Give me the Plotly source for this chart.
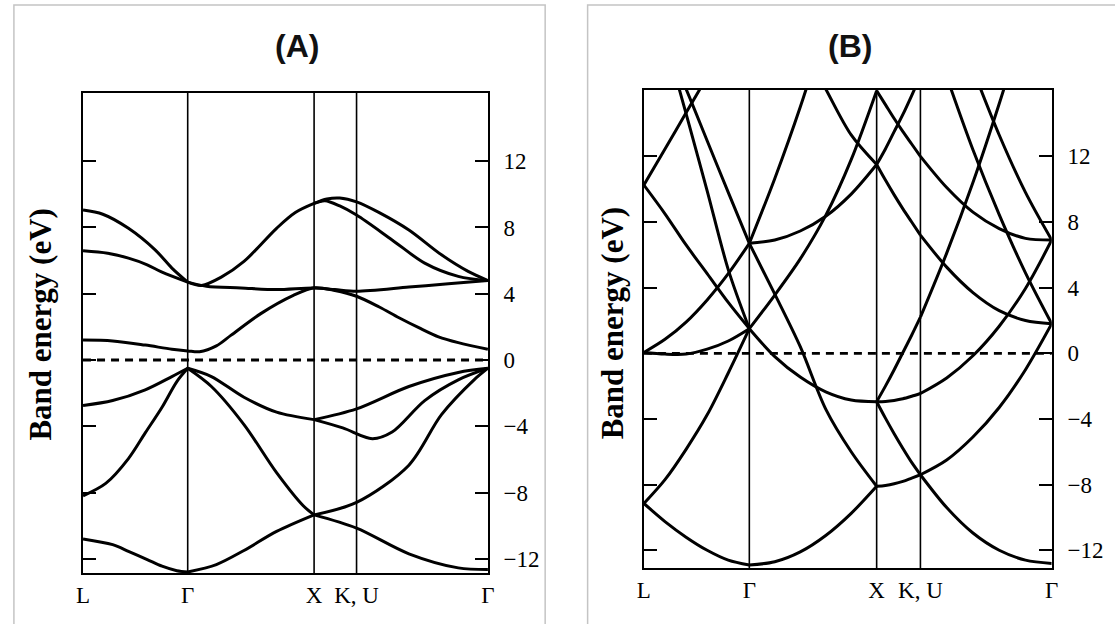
import plotly.graph_objects as go

# ---------------- shared axis data ----------------
SYM_LABELS = ["L", "Γ", "X", "K, U", "Γ"]
A_SYM_K = [0, 1.06, 2.34, 2.77, 4.10]
B_SYM_K = [0, 1.06, 2.34, 2.78, 4.10]
E_TICKS = [-12, -8, -4, 0, 4, 8, 12]
E_TICK_TEXT = ["−12", "−8", "−4", "0", "4", "8", "12"]
A_E_RANGE = [-12.86, 16.12]
B_E_RANGE = [-13.08, 16.04]
K_RANGE = [0, 4.10]
TITLES = ["(A)", "(B)"]
Y_LABEL = "Band energy (eV)"

# ---------------- panel A bands (k, E in eV) ----------------
A_U1_K = [0, 0.2, 0.46, 0.73, 0.9, 1.06]
A_U1_E = [9.05, 8.8, 7.95, 6.65, 5.55, 4.7]
A_U2_K = [0, 0.25, 0.46, 0.65, 0.8, 1.06]
A_U2_E = [6.6, 6.45, 6.15, 5.75, 5.3, 4.7]
A_C1_K = [0, 0.3, 0.63, 0.9, 1.06, 1.18, 1.35, 1.5, 1.8, 2.13, 2.34, 2.55, 2.77, 3.0, 3.2, 3.4, 3.6, 3.8, 4.10]
A_C1_E = [1.2, 1.15, 0.9, 0.65, 0.55, 0.5, 0.85, 1.5, 2.8, 3.9, 4.36, 4.2, 3.85, 3.2, 2.55, 1.95, 1.4, 1.05, 0.65]
A_UP_K = [1.06, 1.2, 1.4, 1.63, 1.96, 2.15, 2.34, 2.47, 2.6, 2.77, 3.0, 3.3, 3.63, 3.9, 4.10]
A_UP_E = [4.7, 4.5, 5.0, 5.95, 7.95, 8.9, 9.45, 9.72, 9.78, 9.55, 8.9, 7.85, 6.35, 5.35, 4.8]
A_U2R_K = [2.34, 2.45, 2.6, 2.77, 3.13, 3.46, 3.8, 4.10]
A_U2R_E = [9.45, 9.62, 9.3, 8.75, 7.25, 5.85, 5.05, 4.8]
A_FL_K = [1.06, 1.25, 1.6, 1.96, 2.34, 2.55, 2.77, 3.3, 3.7, 4.10]
A_FL_E = [4.7, 4.45, 4.35, 4.25, 4.35, 4.25, 4.15, 4.4, 4.6, 4.8]
A_V1_K = [0, 0.3, 0.63, 0.9, 1.06]
A_V1_E = [-2.75, -2.45, -1.8, -1.0, -0.5]
A_V2_K = [0, 0.23, 0.46, 0.63, 0.8, 0.95, 1.06]
A_V2_E = [-8.2, -7.45, -5.95, -4.4, -2.85, -1.3, -0.5]
A_V3_K = [0, 0.3, 0.46, 0.65, 0.8, 0.95, 1.06]
A_V3_E = [-10.8, -11.15, -11.55, -12.05, -12.45, -12.72, -12.8]
A_V1B_K = [1.06, 1.3, 1.63, 1.96, 2.34]
A_V1B_E = [-0.5, -1.0, -2.25, -3.15, -3.6]
A_V2B_K = [1.06, 1.3, 1.63, 1.96, 2.23, 2.34]
A_V2B_E = [-0.5, -1.6, -3.9, -6.8, -8.8, -9.35]
A_V3B_K = [1.06, 1.35, 1.63, 1.96, 2.34]
A_V3B_E = [-12.8, -12.35, -11.5, -10.35, -9.35]
A_V4_K = [2.34, 2.77, 3.3, 3.8, 4.10]
A_V4_E = [-3.6, -2.95, -1.6, -0.75, -0.5]
A_V5_K = [2.34, 2.63, 2.93, 3.13, 3.46, 3.8, 4.10]
A_V5_E = [-3.6, -4.1, -4.75, -4.35, -2.45, -1.2, -0.5]
A_V6_K = [2.34, 2.77, 3.3, 3.63, 3.96, 4.10]
A_V6_E = [-9.35, -8.6, -6.35, -3.3, -1.2, -0.5]
A_V7_K = [2.34, 2.77, 3.3, 3.8, 4.10]
A_V7_E = [-9.35, -10.15, -11.7, -12.55, -12.65]

# ---------------- panel B bands (k, E in eV) ----------------
B_K_LG = [0, 0.212, 0.424, 0.636, 0.848, 1.06]
B_K_GX = [1.06, 1.316, 1.572, 1.828, 2.084, 2.34]
B_K_XK = [2.34, 2.428, 2.516, 2.604, 2.692, 2.78]
B_K_KG = [2.78, 3.044, 3.308, 3.572, 3.836, 4.10]

B_LG1_E = [-9.15, -10.25, -11.2, -12.0, -12.6, -12.9]
B_LG2_E = [-9.15, -7.7, -5.85, -3.75, -1.2, 1.5]
B_LG3_E = [0.05, -0.05, -0.05, 0.25, 0.75, 1.5]
B_LG4_E = [0.05, 0.85, 1.9, 3.25, 4.85, 6.7]
B_LG5_E = [10.25, 8.5, 6.6, 4.85, 3.1, 1.5]
B_LG6_K = [0, 0.212, 0.424, 0.636]
B_LG6_E = [10.25, 12.45, 14.65, 16.85]
B_LG7_K = [0.30, 0.424, 0.636, 0.848, 1.06]
B_LG7_E = [17.3, 14.6, 9.9, 5.1, 1.5]
B_LG8_K = [0.35, 0.424, 0.636, 0.848, 1.06]
B_LG8_E = [17.1, 16.1, 12.95, 9.8, 6.7]

B_GX1_E = [-12.9, -12.7, -12.1, -11.1, -9.75, -8.1]
B_GX2_E = [6.7, 3.6, 0.4, -3.4, -6.0, -8.1]
B_GX3_E = [1.5, -0.2, -1.45, -2.35, -2.85, -2.95]
B_GX4_E = [1.5, 3.55, 5.75, 8.4, 11.8, 16.0]
B_GX5_E = [6.7, 6.9, 7.45, 8.35, 9.7, 11.5]
B_GX6_K = [1.06, 1.316, 1.572, 1.828]
B_GX6_E = [6.7, 10.65, 15.0, 19.9]
B_GX7_K = [1.572, 1.828, 2.084, 2.34]
B_GX7_E = [19.0, 16.1, 13.3, 11.5]

B_XK1_E = [-8.1, -8.05, -7.95, -7.8, -7.6, -7.4]
B_XK2_E = [-2.95, -3.95, -4.9, -5.8, -6.65, -7.4]
B_XK3_E = [-2.95, -2.0, -1.0, 0.05, 1.1, 2.2]
B_XK4_E = [-2.95, -2.93, -2.87, -2.77, -2.62, -2.45]
B_XK5_E = [16.0, 15.15, 14.3, 13.5, 12.75, 12.0]
B_XK6_E = [11.5, 10.55, 9.65, 8.8, 8.0, 7.2]
B_XK7_E = [11.5, 12.45, 13.5, 14.55, 15.7, 16.9]

B_KG1_E = [-7.4, -9.4, -10.95, -12.0, -12.6, -12.8]
B_KG2_E = [-7.4, -6.5, -5.1, -3.3, -1.0, 1.8]
B_KG3_E = [-2.45, -1.5, -0.15, 1.65, 3.95, 6.9]
B_KG4_K = [2.78, 3.044, 3.308, 3.572, 3.836]
B_KG4_E = [2.2, 6.1, 10.4, 15.2, 20.4]
B_KG5_E = [7.2, 5.25, 3.7, 2.6, 2.0, 1.8]
B_KG6_E = [12.0, 10.1, 8.6, 7.6, 7.0, 6.9]
B_KG7_K = [3.044, 3.308, 3.572, 3.836, 4.10]
B_KG7_E = [16.85, 12.4, 8.45, 4.9, 1.8]
B_KG8_K = [3.308, 3.572, 3.836, 4.10]
B_KG8_E = [17.3, 13.3, 9.8, 6.9]

A_BANDS = [
    (A_U1_K, A_U1_E), (A_U2_K, A_U2_E), (A_C1_K, A_C1_E), (A_UP_K, A_UP_E),
    (A_U2R_K, A_U2R_E), (A_FL_K, A_FL_E), (A_V1_K, A_V1_E), (A_V2_K, A_V2_E),
    (A_V3_K, A_V3_E), (A_V1B_K, A_V1B_E), (A_V2B_K, A_V2B_E), (A_V3B_K, A_V3B_E),
    (A_V4_K, A_V4_E), (A_V5_K, A_V5_E), (A_V6_K, A_V6_E), (A_V7_K, A_V7_E),
]
B_BANDS = [
    (B_K_LG, B_LG1_E), (B_K_LG, B_LG2_E), (B_K_LG, B_LG3_E), (B_K_LG, B_LG4_E),
    (B_K_LG, B_LG5_E), (B_LG6_K, B_LG6_E), (B_LG7_K, B_LG7_E), (B_LG8_K, B_LG8_E),
    (B_K_GX, B_GX1_E), (B_K_GX, B_GX2_E), (B_K_GX, B_GX3_E), (B_K_GX, B_GX4_E),
    (B_K_GX, B_GX5_E), (B_GX6_K, B_GX6_E), (B_GX7_K, B_GX7_E),
    (B_K_XK, B_XK1_E), (B_K_XK, B_XK2_E), (B_K_XK, B_XK3_E), (B_K_XK, B_XK4_E),
    (B_K_XK, B_XK5_E), (B_K_XK, B_XK6_E), (B_K_XK, B_XK7_E),
    (B_K_KG, B_KG1_E), (B_K_KG, B_KG2_E), (B_K_KG, B_KG3_E), (B_KG4_K, B_KG4_E),
    (B_K_KG, B_KG5_E), (B_K_KG, B_KG6_E), (B_KG7_K, B_KG7_E), (B_KG8_K, B_KG8_E),
]

# ---------------- figure ----------------
W, H = 1115, 624
fig = go.Figure()

def add_band(k, e, xa, ya):
    fig.add_trace(go.Scatter(
        x=k, y=e, mode="lines", xaxis=xa, yaxis=ya,
        line=dict(color="black", width=3, shape="spline", smoothing=0.9),
        hoverinfo="skip", showlegend=False))

for k, e in A_BANDS:
    add_band(k, e, "x", "y")
for k, e in B_BANDS:
    add_band(k, e, "x2", "y2")

SERIF = "Liberation Serif, Times New Roman, serif"
SANS = "Liberation Sans, Arial, sans-serif"

def xaxis_cfg(dom, symk, anchor):
    return dict(domain=dom, range=K_RANGE, anchor=anchor, showline=True, mirror=True,
                linecolor="black", linewidth=2.2, showgrid=False, zeroline=False,
                ticks="", tickvals=symk, ticktext=SYM_LABELS,
                tickfont=dict(family=SERIF, size=23, color="black"),
                ticklabelstandoff=0, fixedrange=True)

def yaxis_cfg(dom, rng, anchor):
    return dict(domain=dom, range=rng, side="right", anchor=anchor,
                showline=True, mirror="ticks", linecolor="black", linewidth=2.2,
                ticks="inside", ticklen=13, tickwidth=2, tickcolor="black",
                tickvals=E_TICKS, ticktext=E_TICK_TEXT, showgrid=False,
                zeroline=False, tickfont=dict(family=SERIF, size=23, color="black"),
                ticklabelstandoff=9, fixedrange=True)

A_XDOM = [77 / W, 487 / W]
A_YDOM = [1 - 573 / H, 1 - 93 / H]
B_XDOM = [645 / W, 1058 / W]
B_YDOM = [1 - 568 / H, 1 - 90 / H]

shapes = []
# outer light-gray panel boxes
shapes.append(dict(type="rect", xref="paper", yref="paper", x0=7 / W, x1=545 / W,
                   y0=-0.1, y1=1 - 5 / H, line=dict(color="#c4c4c4", width=1.5), layer="below"))
shapes.append(dict(type="rect", xref="paper", yref="paper", x0=588 / W, x1=1.1,
                   y0=-0.1, y1=1 - 5 / H, line=dict(color="#c4c4c4", width=1.5), layer="below"))
# symmetry-point vertical lines and zero dashed line
for xr, yr, symk in (("x", "y", A_SYM_K), ("x2", "y2", B_SYM_K)):
    for kv in symk[1:4]:
        shapes.append(dict(type="line", xref=xr, yref=yr + " domain", x0=kv, x1=kv,
                           y0=0, y1=1, line=dict(color="black", width=1.6)))
    shapes.append(dict(type="line", xref=xr + " domain", yref=yr, x0=0, x1=1, y0=0, y1=0,
                       line=dict(color="black", width=2.8, dash="8px,6px")))

annotations = [
    dict(text="<b>%s</b>" % TITLES[0], x=294 / W, y=1 - 46 / H, xref="paper", yref="paper",
         showarrow=False, xanchor="center", yanchor="middle",
         font=dict(family=SANS, size=32, color="#111")),
    dict(text="<b>%s</b>" % TITLES[1], x=854 / W, y=1 - 46 / H, xref="paper", yref="paper",
         showarrow=False, xanchor="center", yanchor="middle",
         font=dict(family=SANS, size=32, color="#111")),
    dict(text="<b>%s</b>" % Y_LABEL, x=33 / W, y=1 - 325 / H, xref="paper", yref="paper",
         showarrow=False, textangle=-90, xanchor="center", yanchor="middle",
         font=dict(family=SERIF, size=31, color="black")),
    dict(text="<b>%s</b>" % Y_LABEL, x=613 / W, y=1 - 323 / H, xref="paper", yref="paper",
         showarrow=False, textangle=-90, xanchor="center", yanchor="middle",
         font=dict(family=SERIF, size=31, color="black")),
]

fig.update_layout(
    width=W, height=H, autosize=False,
    margin=dict(l=0, r=0, t=0, b=0, pad=0),
    paper_bgcolor="white", plot_bgcolor="white",
    xaxis=xaxis_cfg(A_XDOM, A_SYM_K, "y"), yaxis=yaxis_cfg(A_YDOM, A_E_RANGE, "x"),
    xaxis2=xaxis_cfg(B_XDOM, B_SYM_K, "y2"), yaxis2=yaxis_cfg(B_YDOM, B_E_RANGE, "x2"),
    shapes=shapes, annotations=annotations, showlegend=False,
)

fig.write_html("out.html", include_plotlyjs=True, config={"displayModeBar": False},
               post_script="document.body.style.margin='0';document.body.style.overflow='hidden';")
